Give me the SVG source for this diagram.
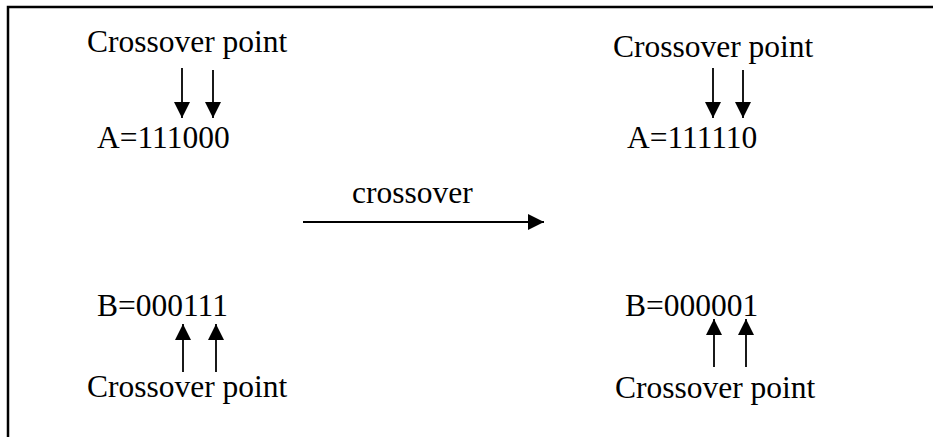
<svg xmlns="http://www.w3.org/2000/svg" width="933" height="437" viewBox="0 0 933 437">
  <style>
    .lbl { font-family: "Liberation Serif", "Times New Roman", serif; font-size: 31.5px; fill: #000; }
    .frame { stroke: #000; stroke-width: 2.5; fill: none; }
    .arr { stroke: #000; stroke-width: 1.8; fill: none; marker-end: url(#head); }
  </style>
  <defs>
    <marker id="head" markerUnits="userSpaceOnUse" markerWidth="18" markerHeight="16" refX="16" refY="8" orient="auto">
      <path d="M0,0 L16,8 L0,16 Z" fill="#000"/>
    </marker>
  </defs>
  <rect width="933" height="437" fill="#fff"/>

  <!-- open frame: top and left edges only -->
  <path class="frame" d="M8,437 V7 H933"/>

  <g id="parentA">
    <text class="lbl" x="87" y="52">Crossover point</text>
    <text class="lbl" x="97" y="148">A=111000</text>
  </g>
  <g id="childA">
    <text class="lbl" x="613" y="57">Crossover point</text>
    <text class="lbl" x="627" y="148">A=111110</text>
  </g>
  <g id="parentB">
    <text class="lbl" x="97" y="316">B=000111</text>
    <text class="lbl" x="87" y="397">Crossover point</text>
  </g>
  <g id="childB">
    <text class="lbl" x="625" y="316">B=000001</text>
    <text class="lbl" x="615" y="398">Crossover point</text>
  </g>
  <g id="operation">
    <text class="lbl" x="352" y="203">crossover</text>
  </g>

  <g id="connectors">
    <line class="arr" x1="182" y1="68" x2="182" y2="118"/>
    <line class="arr" x1="213" y1="70" x2="213" y2="118"/>
    <line class="arr" x1="713" y1="68" x2="713" y2="118"/>
    <line class="arr" x1="743" y1="70" x2="743" y2="118"/>
    <line class="arr" x1="183" y1="372" x2="183" y2="324"/>
    <line class="arr" x1="216" y1="372" x2="216" y2="324"/>
    <line class="arr" x1="714" y1="367" x2="714" y2="319"/>
    <line class="arr" x1="746" y1="367" x2="746" y2="319"/>
    <line class="arr" x1="303" y1="222" x2="544" y2="222"/>
  </g>
</svg>
